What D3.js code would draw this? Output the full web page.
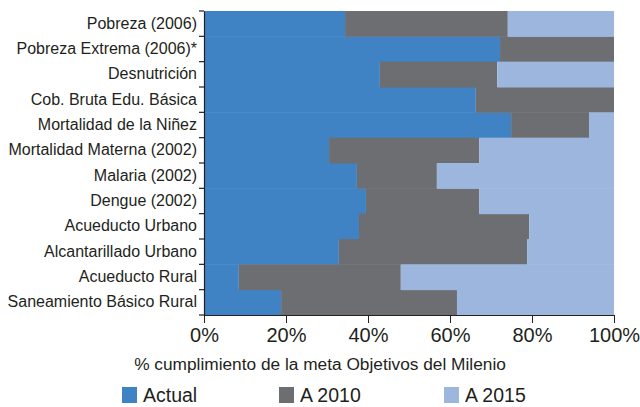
<!DOCTYPE html>
<html lang="en">
<head>
	<meta charset="utf-8">
	<title>Objetivos del Milenio</title>
	<script src="https://d3js.org/d3.v7.min.js" charset="utf-8"></script>
	<style>
		body {
			margin: 0;
			background: #fff;
		}
		text {
			font-family: "Liberation Sans", Arial, sans-serif;
			fill: #231f20;
		}
		.cat {
			font-size: 16px;
		}
		.ticks {
			font-size: 20px;
		}
	</style>
</head>
<body>
	<div id="main"></div>

	<script type="text/javascript">
		// datos (% de la meta)
		var categories = ["Pobreza (2006)", "Pobreza Extrema (2006)*", "Desnutrición",
			"Cob. Bruta Edu. Básica", "Mortalidad de la Niñez", "Mortalidad Materna (2002)",
			"Malaria (2002)", "Dengue (2002)", "Acueducto Urbano", "Alcantarillado Urbano",
			"Acueducto Rural", "Saneamiento Básico Rural"];
		var actual   = [34.4, 72.2, 42.9, 66.3, 74.9, 30.5, 37.3, 39.5, 37.8, 32.9, 8.5, 18.8];
		var meta2010 = [74.1, 100, 71.5, 100, 93.9, 67.1, 56.8, 67.1, 79.3, 78.8, 48.0, 61.7];
		var meta2015 = [100, 100, 100, 100, 100, 100, 100, 100, 100, 100, 100, 100];
		var seriesNames = ["Actual", "A 2010", "A 2015"];
		var seriesColors = ["#3f83c5", "#6d6e71", "#9db6de"];
		var xTicks = [0, 20, 40, 60, 80, 100];

		var width = 640;
		var height = 407;
		var margin = {top: 11, right: 26, bottom: 92, left: 204};

		var svg = d3.select("#main").append("svg")
			.attr("width", width)
			.attr("height", height);

		// tramos apilados: actual, hasta 2010, hasta 2015
		var rows = categories.map(function(c, i) {
			return {
				cat: c,
				"Actual": actual[i],
				"A 2010": meta2010[i] - actual[i],
				"A 2015": meta2015[i] - meta2010[i]
			};
		});

		var stack = d3.stack().keys(seriesNames);
		var layers = stack(rows);

		var x = d3.scaleLinear()
			.domain([0, 100])
			.range([margin.left, width - margin.right]);

		var y = d3.scaleBand()
			.domain(categories)
			.range([margin.top, height - margin.bottom])
			.padding(0);

		var color = d3.scaleOrdinal()
			.domain(seriesNames)
			.range(seriesColors);

		svg.append("g")
			.selectAll("g")
			.data(layers)
			.enter().append("g")
			.attr("fill", function(d) { return color(d.key); })
			.selectAll("rect")
			.data(function(d) { return d; })
			.enter().append("rect")
			.attr("x", function(d) { return x(d[0]); })
			.attr("width", function(d) { return x(d[1]) - x(d[0]); })
			.attr("y", function(d) { return y(d.data.cat); })
			.attr("height", y.bandwidth() + 0.5);

		// eje x
		var xAxis = svg.append("g")
			.attr("class", "ticks")
			.attr("transform", "translate(0," + (height - margin.bottom) + ")")
			.call(d3.axisBottom(x)
				.tickValues(xTicks)
				.tickSize(8)
				.tickPadding(5)
				.tickSizeOuter(0)
				.tickFormat(function(d) { return d + "%"; }));
		xAxis.select(".domain").attr("stroke", "#231f20").attr("stroke-width", 1.2);
		xAxis.selectAll(".tick line").attr("stroke", "#231f20");
		xAxis.selectAll("text").attr("font-family", null).attr("font-size", null);

		// eje y (ticks entre categorias)
		var yAxis = svg.append("g")
			.attr("class", "cat")
			.attr("transform", "translate(" + margin.left + ",0)")
			.call(d3.axisLeft(y).tickSize(0).tickPadding(7).tickSizeOuter(0));
		yAxis.select(".domain").attr("stroke", "#231f20").attr("stroke-width", 1.2);
		yAxis.selectAll("text").attr("font-family", null).attr("font-size", null);

		var bounds = categories.map(function(c) { return y(c); }).concat([y.range()[1]]);
		svg.append("g")
			.selectAll("line")
			.data(bounds)
			.enter().append("line")
			.attr("x1", margin.left - 5)
			.attr("x2", margin.left)
			.attr("y1", function(d) { return d; })
			.attr("y2", function(d) { return d; })
			.attr("stroke", "#231f20")
			.attr("stroke-width", 1.2);

		// titulo eje
		svg.append("text")
			.attr("x", width / 2)
			.attr("y", 370)
			.attr("text-anchor", "middle")
			.attr("font-size", "17.3px")
			.text("% cumplimiento de la meta Objetivos del Milenio");

		// leyenda
		var legendX = [122, 279, 444];
		var legend = svg.append("g")
			.selectAll("g")
			.data(seriesNames)
			.enter().append("g")
			.attr("transform", function(d, i) { return "translate(" + legendX[i] + ",387)"; });

		legend.append("rect")
			.attr("width", 15)
			.attr("height", 16)
			.attr("fill", function(d) { return color(d); });

		legend.append("text")
			.attr("x", 21)
			.attr("y", 15)
			.attr("font-size", "19.5px")
			.text(function(d) { return d; });
	</script>
</body>
</html>
